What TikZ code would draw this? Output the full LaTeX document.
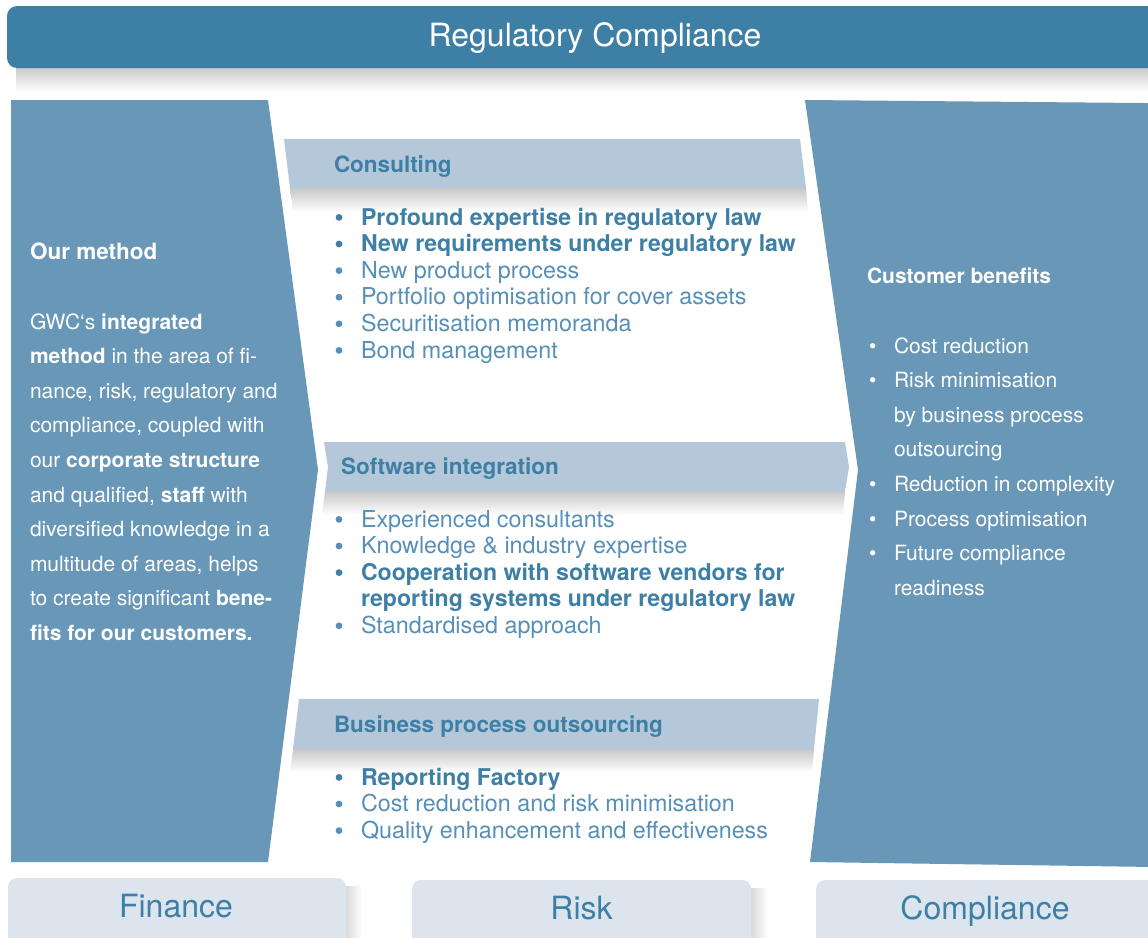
\documentclass[tikz,border=0pt]{standalone}
\usepackage{fontspec}
\setmainfont{TeX Gyre Heros}
\definecolor{bannerblue}{HTML}{3E7FA5}
\definecolor{panelblue}{HTML}{6897B7}
\definecolor{barblue}{HTML}{B5C8DA}
\definecolor{tabgray}{HTML}{DCE4ED}
\definecolor{boldblue}{HTML}{3E7FA5}
\definecolor{liteblue}{HTML}{5690B8}
\newcommand{\sbul}{\makebox[25pt][l]{•}}
\tikzset{
 txt/.style={anchor=base west, inner sep=0pt, outer sep=0pt},
 mreg/.style={txt, text=liteblue, font=\fontsize{23.3}{26}\selectfont},
 mbold/.style={txt, text=boldblue, font=\fontsize{23.1}{26}\selectfont\bfseries},
 mhead/.style={txt, text=bannerblue, font=\fontsize{22.5}{26}\selectfont\bfseries},
 side/.style={txt, text=white, font=\fontsize{21}{25}\selectfont},
 sidehead/.style={txt, text=white, font=\fontsize{22.5}{26}\selectfont\bfseries},
 panel/.style={fill=panelblue, draw=none},
 bar/.style={fill=barblue, draw=none},
 tab/.style={fill=tabgray, draw=none, rounded corners=9pt},
 tablabel/.style={anchor=base, inner sep=0pt, text=bannerblue, font=\fontsize{32}{36}\selectfont},
 dropshade/.style={top color=black!22, bottom color=white},
 sideshade/.style={left color=black!22, right color=white},
 bdot/.style={fill=boldblue},
 rdot/.style={fill=liteblue},
}
\newcommand{\itemdot}[2]{\fill[#1] ([xshift=-22pt,yshift=7.6pt]#2.base west) circle (3.4pt);}
\begin{document}
\begin{tikzpicture}[x=1pt,y=-1pt]
\useasboundingbox (0,0) rectangle (1148,937);
\clip (0,0) rectangle (1148,937);
\fill[white] (0,0) rectangle (1148,937);

% banner
\shade[dropshade] (16,66) rectangle (1148,92);
\fill[bannerblue, rounded corners=10pt] (7,6) rectangle (1175,68);
\node[anchor=base, inner sep=0pt, text=white, font=\fontsize{32}{36}\selectfont] (title) at (595,46) {Regulatory Compliance};

% side panels
\fill[panel] (11,100) -- (268,100) -- (318,470) -- (268,862) -- (11,862) -- cycle;
\fill[panel] (805,100) -- (1175,103.3) -- (1175,867.3) -- (810,862) -- (858,470) -- cycle;

% middle bars with shadows
\shade[dropshade] (290,188) -- (806,188) -- (808,212) -- (293,212) -- cycle;
\fill[bar] (284,139) -- (800,139) -- (806,188) -- (290,188) -- cycle;

\shade[dropshade] (325,491) -- (845,491) -- (843,515) -- (322,515) -- cycle;
\fill[bar] (324,442) -- (845,442) -- (849,467) -- (845,491) -- (325,491) -- (328,467) -- cycle;

\shade[dropshade] (293,749) -- (814,749) -- (812,772) -- (290,772) -- cycle;
\fill[bar] (299,699) -- (819,699) -- (814,749) -- (293,749) -- cycle;

% bottom tabs
\shade[sideshade] (338,886) rectangle (362,937);
\fill[tab] (8,878) rectangle (346,965);
\node[tablabel] (fin) at (176,917.5) {Finance};

\shade[sideshade] (743,888) rectangle (768,937);
\fill[tab] (412,880) rectangle (751,965);
\node[tablabel] (risk) at (581.5,919) {Risk};

\fill[tab] (816,880) rectangle (1175,965);
\node[tablabel] (comp) at (985,919) {Compliance};

% left panel text
\node[sidehead] (lm) at (30,259) {Our method};
\node[side] (l1) at (30,329) {GWC‘s \textbf{integrated}};
\node[side] (l2) at (30,363.6) {\textbf{method} in the area of fi-};
\node[side] (l3) at (30,398.2) {nance, risk, regulatory and};
\node[side] (l4) at (30,432.8) {compliance, coupled with};
\node[side] (l5) at (30,467.4) {our \textbf{corporate structure}};
\node[side] (l6) at (30,502) {and qualified, \textbf{staff} with};
\node[side] (l7) at (30,536.6) {diversified knowledge in a};
\node[side] (l8) at (30,571.2) {multitude of areas, helps};
\node[side] (l9) at (30,605.8) {to create significant \textbf{bene-}};
\node[side] (l10) at (30,640.4) {\textbf{fits for our customers.}};

% right panel text
\node[side, font=\fontsize{21}{25}\selectfont\bfseries] (rh) at (867,283) {Customer benefits};
\node[side] (r1) at (869,353) {\sbul Cost reduction};
\node[side] (r2) at (869,387.6) {\sbul Risk minimisation};
\node[side] (r3) at (894,422.2) {by business process};
\node[side] (r4) at (894,456.8) {outsourcing};
\node[side] (r5) at (869,491.4) {\sbul Reduction in complexity};
\node[side] (r6) at (869,526) {\sbul Process optimisation};
\node[side] (r7) at (869,560.6) {\sbul Future compliance};
\node[side] (r8) at (894,595.2) {readiness};

% consulting
\node[mhead] (ch) at (334,172.5) {Consulting};
\node[mbold] (c1) at (361,225) {Profound expertise in regulatory law};
\node[mbold] (c2) at (361,251.6) {New requirements under regulatory law};
\node[mreg] (c3) at (361,278.2) {New product process};
\node[mreg] (c4) at (361,304.8) {Portfolio optimisation for cover assets};
\node[mreg] (c5) at (361,331.4) {Securitisation memoranda};
\node[mreg] (c6) at (361,358) {Bond management};
\itemdot{bdot}{c1} \itemdot{bdot}{c2} \itemdot{rdot}{c3} \itemdot{rdot}{c4} \itemdot{rdot}{c5} \itemdot{rdot}{c6}

% software integration
\node[mhead] (sh) at (341,474) {Software integration};
\node[mreg] (s1) at (361,527) {Experienced consultants};
\node[mreg] (s2) at (361,553.6) {Knowledge \& industry expertise};
\node[mbold] (s3) at (361,580.2) {Cooperation with software vendors for};
\node[mbold] (s4) at (361,606.8) {reporting systems under regulatory law};
\node[mreg] (s5) at (361,633.4) {Standardised approach};
\itemdot{rdot}{s1} \itemdot{rdot}{s2} \itemdot{bdot}{s3} \itemdot{rdot}{s5}

% business process outsourcing
\node[mhead] (bh) at (334,732) {Business process outsourcing};
\node[mbold] (b1) at (361,785) {Reporting Factory};
\node[mreg] (b2) at (361,811.6) {Cost reduction and risk minimisation};
\node[mreg] (b3) at (361,838.2) {Quality enhancement and effectiveness};
\itemdot{bdot}{b1} \itemdot{rdot}{b2} \itemdot{rdot}{b3}
\end{tikzpicture}
\end{document}
